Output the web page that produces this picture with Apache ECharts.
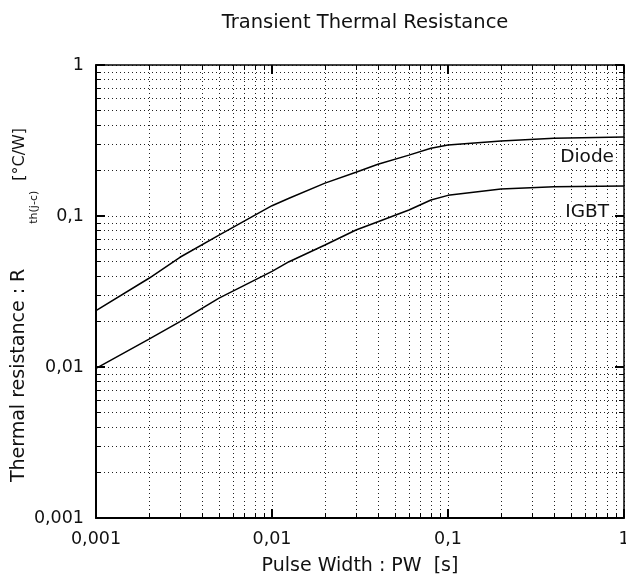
<!DOCTYPE html>
<html>
<head>
<meta charset="utf-8">
<script src="https://cdn.jsdelivr.net/npm/echarts@6/dist/echarts.min.js"></script>
<style>
  html, body { margin: 0; padding: 0; background: #fff; }
  #main { width: 626px; height: 577px; }
</style>
</head>
<body>
<div id="main"></div>
<script>
// pulse width [s]
var pulseWidth = [0.001, 0.002, 0.003, 0.005, 0.01, 0.0125, 0.02, 0.03, 0.04, 0.06, 0.08, 0.1, 0.2, 0.4, 1];
// Rth(j-c) [°C/W]
var diodeRth = [0.0236, 0.0387, 0.0533, 0.0748, 0.117, 0.131, 0.165, 0.195, 0.22, 0.253, 0.281, 0.295, 0.314, 0.327, 0.333];
var igbtRth = [0.0098, 0.0153, 0.020, 0.0286, 0.043, 0.0498, 0.0643, 0.0808, 0.0917, 0.1096, 0.1276, 0.137, 0.151, 0.156, 0.158];

function pairs(xs, ys) {
    return xs.map(function (x, i) { return [x, ys[i]]; });
}

// decimal comma, as in the datasheet
function fmt(v) {
    return String(Number(v.toPrecision(3))).replace('.', ',');
}

var font = 'DejaVu Sans, Liberation Sans, sans-serif';
var ink = '#111';
var dotted = { color: '#222', width: 1, type: [1, 3] };

function logAxis(pos, main) {
    return {
        type: 'log',
        logBase: 10,
        position: pos,
        min: 0.001,
        max: 1,
        nameMoveOverlap: false,
        axisLine: { show: true, onZero: false, lineStyle: { color: '#000', width: main ? 2 : 1.5 } },
        axisTick: { show: true, inside: true, length: 9, lineStyle: { color: '#000', width: 2 } },
        minorTick: { show: true, splitNumber: 9, length: 5, lineStyle: { color: '#000', width: 1 } },
        axisLabel: {
            show: main, formatter: fmt, color: ink, fontSize: 17.5, fontFamily: font, margin: 12
        },
        splitLine: { show: main, lineStyle: dotted },
        minorSplitLine: { show: main, lineStyle: dotted }
    };
}

var chart = echarts.init(document.getElementById('main'));

var xMain = logAxis('bottom', true);
xMain.name = 'Pulse Width : PW  [s]';
xMain.nameLocation = 'middle';
xMain.nameGap = 39;
xMain.nameTextStyle = { color: ink, fontSize: 19, fontFamily: font };

var yMain = logAxis('left', true);
yMain.name = '{a|Thermal resistance : R}{g1| }{s|th(j-c)}{g2| }{u|[°C/W]}';
yMain.nameLocation = 'middle';
yMain.nameRotate = 90;
yMain.nameGap = 56;
yMain.nameTextStyle = {
    color: ink,
    fontFamily: font,
    padding: [0, 27, 0, 0],
    rich: {
        a: { fontSize: 19, fontFamily: font, color: ink, lineHeight: 41 },
        g1: { fontSize: 19, width: 45, lineHeight: 41 },
        s: { fontSize: 11, fontFamily: font, color: ink, lineHeight: 14, verticalAlign: 'bottom' },
        g2: { fontSize: 16, width: 10, lineHeight: 41 },
        u: { fontSize: 16, fontFamily: font, color: ink, lineHeight: 41 }
    }
};

function curve(name, ys, offset) {
    return {
        name: name,
        type: 'line',
        xAxisIndex: 0,
        yAxisIndex: 0,
        showSymbol: false,
        symbol: 'none',
        data: pairs(pulseWidth, ys),
        lineStyle: { color: '#000', width: 1.5 },
        endLabel: {
            show: true,
            formatter: name,
            align: 'right',
            offset: offset,
            color: ink,
            fontSize: 18.5,
            fontFamily: font,
            backgroundColor: '#fff',
            padding: [1, 2]
        }
    };
}

chart.setOption({
    animation: false,
    title: {
        text: 'Transient Thermal Resistance',
        left: 360,
        textAlign: 'center',
        top: 8,
        textStyle: { color: ink, fontSize: 19.5, fontWeight: 'normal', fontFamily: font }
    },
    grid: { left: 96, right: 2, top: 65, bottom: 59, containLabel: false, outerBoundsMode: 'none' },
    xAxis: [xMain, logAxis('top', false)],
    yAxis: [yMain, logAxis('right', false)],
    series: [
        curve('Diode', diodeRth, [-16, 20]),
        curve('IGBT', igbtRth, [-21, 26])
    ]
});
</script>
</body>
</html>
